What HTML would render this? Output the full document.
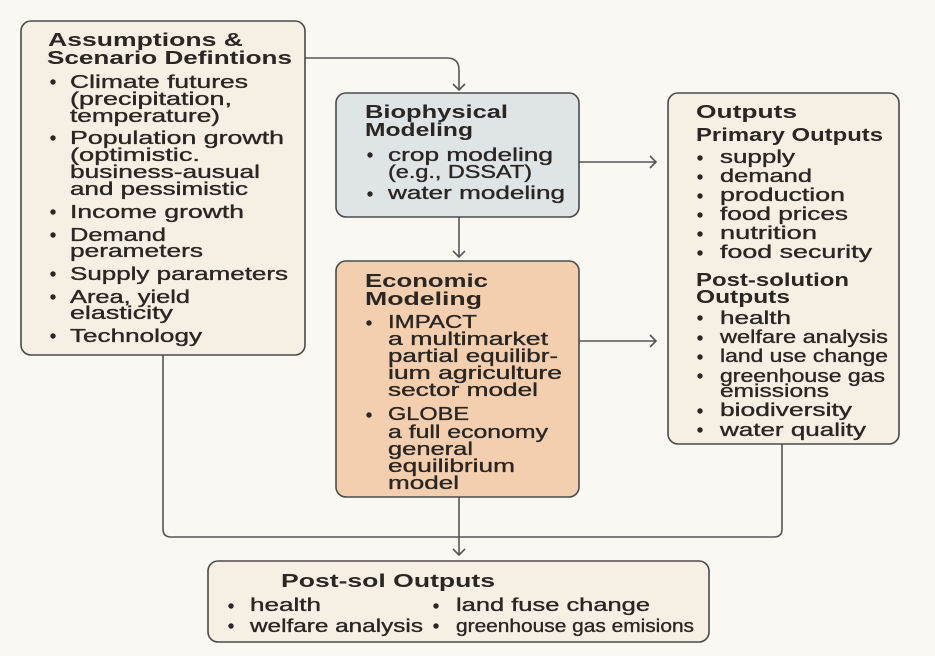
<!DOCTYPE html>
<html><head><meta charset="utf-8"><style>
html,body{margin:0;padding:0;background:#faf8f3;}
svg{display:block;}
text{font-family:"Liberation Sans",sans-serif;fill:#2a2623;font-size:18.5px;stroke:#2a2623;stroke-width:0.35px;}
.t{font-weight:bold;stroke-width:0;}
</style></head><body>
<svg width="935" height="656" viewBox="0 0 935 656" xmlns="http://www.w3.org/2000/svg">
<rect width="935" height="656" fill="#faf8f3"/>
<g fill="none" stroke="#555" stroke-width="1.6">
<path d="M305 58 H447 Q459 58 459 70 V90"/>
<path d="M453 84 L459 90 L465 84"/>
<path d="M459 217 V257"/>
<path d="M453 251 L459 257 L465 251"/>
<path d="M579 162 H656"/>
<path d="M650 156 L656 162 L650 168"/>
<path d="M579 341 H656"/>
<path d="M650 335 L656 341 L650 347"/>
<path d="M459 497 V555"/>
<path d="M453 549 L459 555 L465 549"/>
<path d="M163 355 V529 Q163 537 171 537 H459"/>
<path d="M782 444 V529 Q782 537 774 537 H459"/>
</g>
<rect x="21" y="21" width="284" height="334" rx="10" fill="#f6efe3" stroke="#4a4a4a" stroke-width="1.6"/>
<rect x="336" y="93" width="243" height="124" rx="10" fill="#dfe4e7" stroke="#4a4a4a" stroke-width="1.6"/>
<rect x="336" y="261" width="243" height="236" rx="10" fill="#f3cfb0" stroke="#4a4a4a" stroke-width="1.6"/>
<rect x="668" y="93" width="231" height="351" rx="10" fill="#f6efe3" stroke="#4a4a4a" stroke-width="1.6"/>
<rect x="208" y="561" width="501" height="81" rx="10" fill="#f6efe3" stroke="#4a4a4a" stroke-width="1.6"/>
<g fill="#2a2623">
<circle cx="53" cy="82" r="2.7"/><circle cx="53" cy="138" r="2.7"/><circle cx="53" cy="212" r="2.7"/><circle cx="53" cy="235" r="2.7"/><circle cx="53" cy="274" r="2.7"/><circle cx="53" cy="297" r="2.7"/><circle cx="53" cy="336" r="2.7"/>
<circle cx="370" cy="155" r="2.7"/><circle cx="370" cy="194" r="2.7"/>
<circle cx="369" cy="323" r="2.7"/><circle cx="369" cy="415" r="2.7"/>
<circle cx="700" cy="158" r="2.7"/><circle cx="700" cy="177" r="2.7"/><circle cx="700" cy="196" r="2.7"/><circle cx="700" cy="215" r="2.7"/><circle cx="700" cy="234" r="2.7"/><circle cx="700" cy="253" r="2.7"/>
<circle cx="700" cy="318" r="2.7"/><circle cx="700" cy="338" r="2.7"/><circle cx="700" cy="357" r="2.7"/><circle cx="700" cy="376" r="2.7"/><circle cx="700" cy="411" r="2.7"/><circle cx="700" cy="430" r="2.7"/>
<circle cx="231" cy="606" r="2.7"/><circle cx="231" cy="626" r="2.7"/><circle cx="436" cy="606" r="2.7"/><circle cx="436" cy="626" r="2.7"/>
</g>
<g>
<text class="t" x="48" y="46" textLength="195" lengthAdjust="spacingAndGlyphs">Assumptions &amp;</text>
<text class="t" x="47" y="64" textLength="245" lengthAdjust="spacingAndGlyphs">Scenario Defintions</text>
<text x="70" y="88" textLength="178" lengthAdjust="spacingAndGlyphs">Climate futures</text>
<text x="70" y="105" textLength="162" lengthAdjust="spacingAndGlyphs">(precipitation,</text>
<text x="70" y="122" textLength="150" lengthAdjust="spacingAndGlyphs">temperature)</text>
<text x="70" y="144" textLength="214" lengthAdjust="spacingAndGlyphs">Population growth</text>
<text x="70" y="161" textLength="130" lengthAdjust="spacingAndGlyphs">(optimistic.</text>
<text x="70" y="178" textLength="190" lengthAdjust="spacingAndGlyphs">business-ausual</text>
<text x="70" y="195" textLength="178" lengthAdjust="spacingAndGlyphs">and pessimistic</text>
<text x="70" y="218" textLength="174" lengthAdjust="spacingAndGlyphs">Income growth</text>
<text x="70" y="241" textLength="96" lengthAdjust="spacingAndGlyphs">Demand</text>
<text x="70" y="257" textLength="133" lengthAdjust="spacingAndGlyphs">perameters</text>
<text x="70" y="280" textLength="218" lengthAdjust="spacingAndGlyphs">Supply parameters</text>
<text x="70" y="303" textLength="120" lengthAdjust="spacingAndGlyphs">Area, yield</text>
<text x="70" y="319" textLength="103" lengthAdjust="spacingAndGlyphs">elasticity</text>
<text x="70" y="342" textLength="132" lengthAdjust="spacingAndGlyphs">Technology</text>

<text class="t" x="365" y="118" textLength="143" lengthAdjust="spacingAndGlyphs">Biophysical</text>
<text class="t" x="365" y="136" textLength="108" lengthAdjust="spacingAndGlyphs">Modeling</text>
<text x="388" y="161" textLength="165" lengthAdjust="spacingAndGlyphs">crop modeling</text>
<text x="388" y="178" textLength="144" lengthAdjust="spacingAndGlyphs">(e.g., DSSAT)</text>
<text x="388" y="199" textLength="177" lengthAdjust="spacingAndGlyphs">water modeling</text>

<text class="t" x="365" y="287" textLength="123" lengthAdjust="spacingAndGlyphs">Economic</text>
<text class="t" x="365" y="305" textLength="117" lengthAdjust="spacingAndGlyphs">Modeling</text>
<text x="388" y="328" textLength="89" lengthAdjust="spacingAndGlyphs">IMPACT</text>
<text x="388" y="345" textLength="160" lengthAdjust="spacingAndGlyphs">a multimarket</text>
<text x="388" y="362" textLength="170" lengthAdjust="spacingAndGlyphs">partial equilibr-</text>
<text x="388" y="379" textLength="174" lengthAdjust="spacingAndGlyphs">ium agriculture</text>
<text x="388" y="396" textLength="150" lengthAdjust="spacingAndGlyphs">sector model</text>
<text x="388" y="420" textLength="81" lengthAdjust="spacingAndGlyphs">GLOBE</text>
<text x="388" y="438" textLength="160" lengthAdjust="spacingAndGlyphs">a full economy</text>
<text x="388" y="455" textLength="85" lengthAdjust="spacingAndGlyphs">general</text>
<text x="388" y="472" textLength="127" lengthAdjust="spacingAndGlyphs">equilibrium</text>
<text x="388" y="489" textLength="71" lengthAdjust="spacingAndGlyphs">model</text>

<text class="t" x="696" y="118" textLength="101" lengthAdjust="spacingAndGlyphs">Outputs</text>
<text class="t" x="696" y="141" textLength="187" lengthAdjust="spacingAndGlyphs">Primary Outputs</text>
<text x="720" y="163" textLength="75" lengthAdjust="spacingAndGlyphs">supply</text>
<text x="720" y="182" textLength="92" lengthAdjust="spacingAndGlyphs">demand</text>
<text x="720" y="201" textLength="125" lengthAdjust="spacingAndGlyphs">production</text>
<text x="720" y="220" textLength="128" lengthAdjust="spacingAndGlyphs">food prices</text>
<text x="720" y="239" textLength="97" lengthAdjust="spacingAndGlyphs">nutrition</text>
<text x="720" y="258" textLength="152" lengthAdjust="spacingAndGlyphs">food security</text>
<text class="t" x="696" y="286" textLength="153" lengthAdjust="spacingAndGlyphs">Post-solution</text>
<text class="t" x="696" y="303" textLength="94" lengthAdjust="spacingAndGlyphs">Outputs</text>
<text x="720" y="324" textLength="71" lengthAdjust="spacingAndGlyphs">health</text>
<text x="720" y="343" textLength="168" lengthAdjust="spacingAndGlyphs">welfare analysis</text>
<text x="720" y="362" textLength="168" lengthAdjust="spacingAndGlyphs">land use change</text>
<text x="720" y="382" textLength="165" lengthAdjust="spacingAndGlyphs">greenhouse gas</text>
<text x="720" y="397" textLength="109" lengthAdjust="spacingAndGlyphs">emissions</text>
<text x="720" y="416" textLength="132" lengthAdjust="spacingAndGlyphs">biodiversity</text>
<text x="720" y="436" textLength="146" lengthAdjust="spacingAndGlyphs">water quality</text>

<text class="t" x="281" y="587" textLength="214" lengthAdjust="spacingAndGlyphs">Post-sol Outputs</text>
<text x="250" y="611" textLength="71" lengthAdjust="spacingAndGlyphs">health</text>
<text x="250" y="632" textLength="173" lengthAdjust="spacingAndGlyphs">welfare analysis</text>
<text x="456" y="611" textLength="194" lengthAdjust="spacingAndGlyphs">land fuse change</text>
<text x="456" y="632" textLength="238" lengthAdjust="spacingAndGlyphs">greenhouse gas emisions</text>
</g>
</svg>
</body></html>
